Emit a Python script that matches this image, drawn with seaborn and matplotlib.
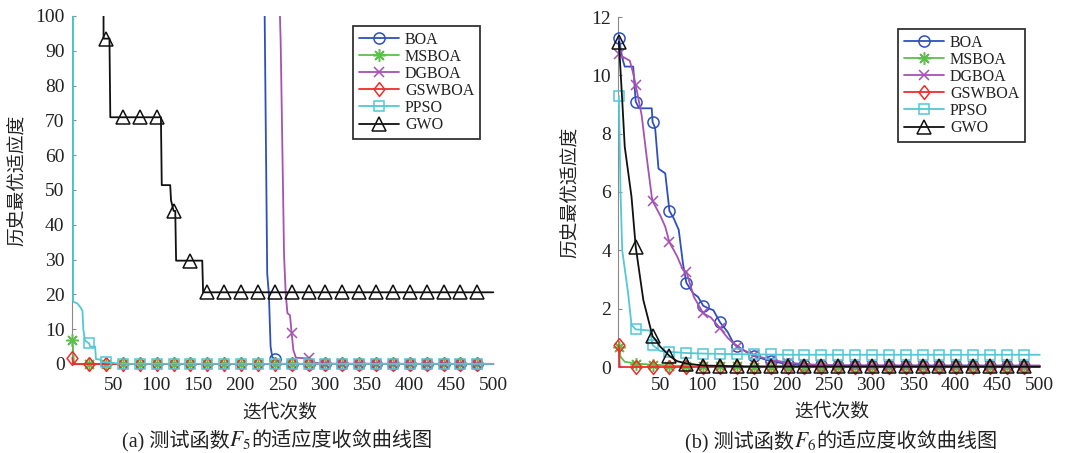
import numpy as np
import pandas as pd
import matplotlib
matplotlib.use("Agg")
import matplotlib.pyplot as plt
from matplotlib.lines import Line2D
from matplotlib.offsetbox import TextArea, HPacker, AnchoredOffsetbox
from matplotlib.transforms import Bbox, TransformedBbox
import seaborn as sns

# ---------------- data: best-so-far fitness (iteration knots, values) ----------------
ALGOS = ["BOA", "MSBOA", "DGBOA", "GSWBOA", "PPSO", "GWO"]

# F5
F5_BOA_IT = [1, 200, 226, 229, 232, 234, 236, 238, 241, 244, 250, 300, 500]
F5_BOA_VAL = [3.0e4, 2.0e3, 400, 100, 26, 20, 5, 2.0, 1.3, 0.3, 0.05, 0.01, 0.0]
F5_MSBOA_IT = [1, 3, 6, 500]
F5_MSBOA_VAL = [6.9, 0.4, 0.0, 0.0]
F5_DGBOA_IT = [1, 220, 244, 246, 248, 252, 254, 256, 259, 261, 263, 266, 282, 285, 300, 500]
F5_DGBOA_VAL = [3.0e4, 3.0e3, 300, 110, 92, 31, 20, 14.6, 14, 8.8, 4, 1.8, 1.6, 0.4, 0.1, 0.05]
F5_GSWBOA_IT = [1, 2, 500]
F5_GSWBOA_VAL = [1.8, 0.0, 0.0]
F5_PPSO_IT = [1, 2, 7, 10, 13, 14, 16, 21, 22, 28, 29, 34, 35, 45, 60, 500]
F5_PPSO_VAL = [2.5e3, 17.9, 17.4, 16.5, 15.3, 10, 6.7, 5.9, 5.0, 5.0, 1.4, 1.3, 0.6, 0.4, 0.05, 0.02]
F5_GWO_IT = [1, 37, 38, 45, 46, 106, 107, 117, 118, 121, 123, 124, 155, 156, 500]
F5_GWO_VAL = [5.0e3, 300, 93.5, 93.5, 70.9, 70.9, 51.4, 51.4, 47, 44, 44, 29.7, 29.7, 20.6, 20.6]

# F6
F6_BOA_IT = [1, 5, 8, 18, 21, 25, 40, 41, 44, 48, 56, 61, 66, 72, 77, 81, 89, 95, 101,
             108, 113, 121, 130, 137, 141, 150, 161, 181, 201, 221, 260, 500]
F6_BOA_VAL = [11.29, 10.6, 10.3, 10.3, 9.1, 8.87, 8.87, 8.4, 8.2, 6.8, 6.64, 5.35, 5.1, 4.7,
              3.55, 2.89, 2.53, 2.4, 2.1, 2.0, 1.95, 1.53, 1.2, 0.81, 0.73, 0.55, 0.38, 0.2,
              0.1, 0.07, 0.05, 0.04]
F6_MSBOA_IT = [1, 3, 8, 21, 41, 61, 81, 101, 150, 500]
F6_MSBOA_VAL = [0.7, 0.35, 0.18, 0.12, 0.08, 0.05, 0.03, 0.02, 0.01, 0.01]
F6_DGBOA_IT = [1, 5, 14, 18, 21, 28, 34, 40, 41, 50, 56, 61, 70, 77, 81, 90, 101, 110, 121,
               130, 141, 161, 181, 201, 221, 241, 280, 500]
F6_DGBOA_VAL = [10.72, 10.65, 10.5, 10.07, 9.67, 8.64, 7.2, 5.84, 5.69, 5.2, 4.81, 4.27, 3.8,
                3.33, 3.27, 2.4, 1.84, 1.7, 1.33, 1.0, 0.7, 0.4, 0.25, 0.15, 0.1, 0.07, 0.05, 0.05]
F6_GSWBOA_IT = [1, 2, 500]
F6_GSWBOA_VAL = [0.75, 0.0, 0.0]
F6_PPSO_IT = [1, 3, 5, 12, 16, 21, 38, 41, 50, 61, 81, 101, 121, 141, 200, 500]
F6_PPSO_VAL = [9.3, 6.0, 4.0, 2.53, 1.44, 1.29, 1.25, 0.75, 0.55, 0.52, 0.48, 0.46, 0.45,
               0.44, 0.42, 0.42]
F6_GWO_IT = [1, 5, 8, 16, 21, 30, 41, 44, 50, 58, 61, 70, 81, 101, 150, 500]
F6_GWO_VAL = [11.15, 9.15, 7.55, 5.84, 4.12, 2.3, 1.05, 0.95, 0.7, 0.47, 0.38, 0.2, 0.12,
              0.05, 0.02, 0.01]

F5 = {
    "BOA": (F5_BOA_IT, F5_BOA_VAL), "MSBOA": (F5_MSBOA_IT, F5_MSBOA_VAL),
    "DGBOA": (F5_DGBOA_IT, F5_DGBOA_VAL), "GSWBOA": (F5_GSWBOA_IT, F5_GSWBOA_VAL),
    "PPSO": (F5_PPSO_IT, F5_PPSO_VAL), "GWO": (F5_GWO_IT, F5_GWO_VAL),
}
F6 = {
    "BOA": (F6_BOA_IT, F6_BOA_VAL), "MSBOA": (F6_MSBOA_IT, F6_MSBOA_VAL),
    "DGBOA": (F6_DGBOA_IT, F6_DGBOA_VAL), "GSWBOA": (F6_GSWBOA_IT, F6_GSWBOA_VAL),
    "PPSO": (F6_PPSO_IT, F6_PPSO_VAL), "GWO": (F6_GWO_IT, F6_GWO_VAL),
}

MARK_ITERS = np.arange(1, 500, 20)

# ---------------- styling ----------------
COLORS = {"BOA": "#2f4fbd", "MSBOA": "#5cc04b", "DGBOA": "#a652b3",
          "GSWBOA": "#f02c2c", "PPSO": "#52c8d6", "GWO": "#111111"}
TALL_DIAMOND = [(0, 1), (0.78, 0), (0, -1), (-0.78, 0), (0, 1)]
MARKERS = {"BOA": ("o", 8.0), "MSBOA": ((8, 2, 0), 9.0), "DGBOA": ("x", 6.5),
           "GSWBOA": (TALL_DIAMOND, 10.0), "PPSO": ("s", 6.5), "GWO": ("^", 9.5)}
LW = 1.3

sns.set_theme(style="white")
plt.rcParams["font.family"] = ["Liberation Serif", "Noto Sans CJK SC"]
plt.rcParams["mathtext.fontset"] = "stix"
CJK = ["Noto Sans CJK SC", "DejaVu Sans"]
MIXED = ["Liberation Serif", "Noto Sans CJK SC"]
INK = "#222222"

fig = plt.figure(figsize=(10.81, 4.53), dpi=100)
W, H = 1081.0, 453.0


def best_so_far(its, vals, at):
    its = np.asarray(its)
    idx = np.searchsorted(its, at, side="right") - 1
    return np.asarray(vals)[idx]


def panel(rect, data, ylim, yticks, leg_anchor, xpad):
    ax = fig.add_axes(rect)
    for name in ALGOS:
        its, vals = data[name]
        c = COLORS[name]
        m, ms = MARKERS[name]
        df = pd.DataFrame({"iter": its, "fit": vals})
        sns.lineplot(data=df, x="iter", y="fit", ax=ax, color=c, lw=LW,
                     estimator=None, sort=False, legend=False, zorder=3)
        mk = pd.DataFrame({"iter": MARK_ITERS, "fit": best_so_far(its, vals, MARK_ITERS)})
        sns.lineplot(data=mk, x="iter", y="fit", ax=ax, color=c, linestyle="",
                     marker=m, markersize=ms, markerfacecolor="none",
                     markeredgecolor=c, markeredgewidth=1.1,
                     estimator=None, sort=False, legend=False, zorder=3)
    # let marks sitting on the zero line show in full below the axis
    clip = TransformedBbox(Bbox([[-0.02, -0.08], [1.02, 1.0]]), ax.transAxes)
    for ln in ax.lines:
        ln.set_clip_box(clip)
    ax.set_xlim(0, 505)
    ax.set_ylim(*ylim)
    ax.set_xticks(np.arange(50, 501, 50))
    ax.set_yticks(yticks)
    ax.set_xlabel("")
    ax.set_ylabel("")
    for s in ("top", "right", "bottom"):
        ax.spines[s].set_visible(False)
    ax.spines["left"].set_color("#8a8a8a")
    ax.spines["left"].set_linewidth(0.8)
    ax.tick_params(axis="y", direction="in", length=3, width=0.8, color="#8a8a8a",
                   labelsize=14, pad=5, left=True, labelcolor=INK)
    ax.tick_params(axis="x", length=0, labelsize=14, pad=xpad, labelcolor=INK)
    for lab in ax.get_xticklabels() + ax.get_yticklabels():
        lab.set_fontfamily("Liberation Serif")
    handles = [Line2D([], [], color=COLORS[n], lw=LW, marker=MARKERS[n][0],
                      markersize=MARKERS[n][1], markerfacecolor="none",
                      markeredgecolor=COLORS[n], markeredgewidth=1.1, label=n)
               for n in ALGOS]
    leg = fig.legend(handles=handles, loc="upper left", bbox_to_anchor=leg_anchor,
                     bbox_transform=fig.transFigure, frameon=True, fancybox=False,
                     prop={"family": "Liberation Serif", "size": 11.5},
                     handlelength=2.5, labelspacing=0.07, borderpad=0.35,
                     handletextpad=0.4, borderaxespad=0.0, labelcolor=INK)
    leg.get_frame().set_edgecolor("black")
    leg.get_frame().set_linewidth(1.3)
    return ax


def caption(x, y, tag, sub):
    # mixed caption: serif/CJK text, italic F with a numeric subscript
    props = dict(family=MIXED, size=14.5, color=INK)
    parts = [TextArea(f"({tag}) 测试函数", textprops=props),
             TextArea(rf"$F_{sub}$", textprops=dict(size=15.5, color=INK)),
             TextArea("的适应度收敛曲线图", textprops=props)]
    box = HPacker(children=parts, align="baseline", pad=0, sep=0)
    anc = AnchoredOffsetbox(loc="center", child=box, frameon=False, pad=0, borderpad=0,
                            bbox_to_anchor=(x / W, 1 - y / H),
                            bbox_transform=fig.transFigure)
    fig.add_artist(anc)


# left panel: F5
panel([71.5 / W, (H - 364) / H, 426 / W, 348 / H], F5, (0, 100), np.arange(0, 101, 10),
      (353 / W, 1 - 26 / H), 9)
# right panel: F6
panel([618 / W, (H - 367) / H, 426 / W, 350 / H], F6, (0, 12), np.arange(0, 13, 2),
      (898 / W, 1 - 29 / H), 7)

# axis titles and captions
fig.text(17 / W, 1 - 180 / H, "历史最优适应度", rotation=90, ha="center", va="center",
         fontsize=13.5, family=CJK, color=INK)
fig.text(570 / W, 1 - 192 / H, "历史最优适应度", rotation=90, ha="center", va="center",
         fontsize=13.5, family=CJK, color=INK)
fig.text(280 / W, 1 - 413 / H, "迭代次数", ha="center", va="center", fontsize=13.5,
         family=CJK, color=INK)
fig.text(832 / W, 1 - 412 / H, "迭代次数", ha="center", va="center", fontsize=13.5,
         family=CJK, color=INK)
caption(277, 440, "a", 5)
caption(841, 441, "b", 6)

fig.savefig("out.png", dpi=100, facecolor="white")
